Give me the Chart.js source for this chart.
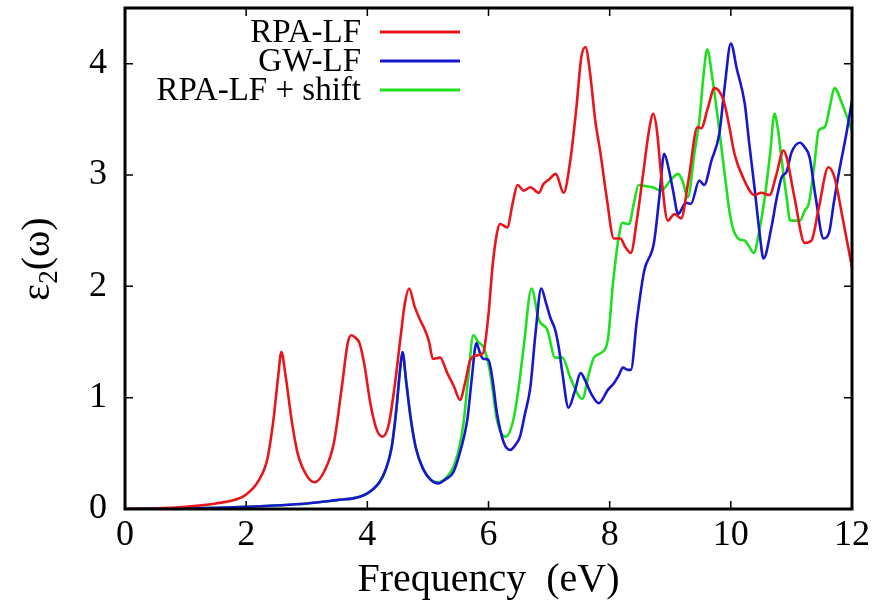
<!DOCTYPE html>
<html>
<head>
<meta charset="utf-8">
<script src="https://cdn.jsdelivr.net/npm/chart.js@4.4.1/dist/chart.umd.min.js"></script>
</head>
<body style="margin:0">
<canvas id="chart" width="882" height="604"></canvas>
<script>
// series (x in eV, y = eps2)
const redX = [0, 0.5, 1, 1.5, 1.8, 2.0, 2.2, 2.35, 2.45, 2.53, 2.58, 2.65, 2.75, 2.85, 3.0, 3.13, 3.3, 3.45, 3.58, 3.68, 3.74, 3.8, 3.87, 3.95, 4.05, 4.15, 4.25, 4.35, 4.45, 4.55, 4.62, 4.69, 4.78, 4.87, 4.95, 5.02, 5.08, 5.2, 5.32, 5.43, 5.53, 5.62, 5.7, 5.81, 5.91, 6.0, 6.07, 6.14, 6.19, 6.31, 6.4, 6.48, 6.58, 6.69, 6.83, 6.91, 7.0, 7.11, 7.24, 7.35, 7.45, 7.53, 7.6, 7.68, 7.76, 7.85, 7.95, 8.07, 8.18, 8.25, 8.35, 8.45, 8.55, 8.65, 8.72, 8.78, 8.85, 8.96, 9.07, 9.18, 9.3, 9.45, 9.51, 9.62, 9.73, 9.88, 9.97, 10.06, 10.2, 10.39, 10.5, 10.64, 10.75, 10.87, 10.92, 11.05, 11.22, 11.33, 11.45, 11.61, 11.71, 11.85, 12.0];
const redY = [0, 0.005, 0.02, 0.05, 0.08, 0.13, 0.25, 0.45, 0.8, 1.2, 1.41, 1.2, 0.8, 0.5, 0.3, 0.24, 0.35, 0.6, 1.1, 1.5, 1.56, 1.54, 1.49, 1.3, 0.95, 0.72, 0.65, 0.75, 1.1, 1.55, 1.85, 1.98, 1.82, 1.7, 1.61, 1.5, 1.35, 1.36, 1.22, 1.1, 0.98, 1.15, 1.34, 1.38, 1.4, 1.75, 2.2, 2.48, 2.56, 2.53, 2.75, 2.91, 2.86, 2.89, 2.84, 2.92, 2.96, 3.01, 2.84, 3.13, 3.6, 4.05, 4.15, 3.9, 3.5, 3.19, 2.8, 2.43, 2.43, 2.36, 2.3, 2.6, 3.0, 3.4, 3.55, 3.4, 3.0, 2.59, 2.65, 2.61, 2.95, 3.43, 3.42, 3.6, 3.78, 3.67, 3.45, 3.19, 2.98, 2.82, 2.84, 2.82, 3.0, 3.22, 3.16, 2.8, 2.39, 2.41, 2.7, 3.07, 2.98, 2.6, 2.17];

const blueX = [0, 1, 2, 3, 3.5, 3.8, 4.0, 4.2, 4.3, 4.4, 4.48, 4.54, 4.58, 4.64, 4.72, 4.8, 4.92, 5.05, 5.17, 5.3, 5.42, 5.55, 5.65, 5.72, 5.8, 5.86, 5.91, 6.0, 6.07, 6.14, 6.25, 6.36, 6.45, 6.52, 6.6, 6.69, 6.78, 6.87, 6.95, 7.02, 7.1, 7.16, 7.22, 7.32, 7.42, 7.52, 7.6, 7.7, 7.82, 7.97, 8.07, 8.15, 8.22, 8.3, 8.35, 8.45, 8.57, 8.73, 8.82, 8.9, 8.98, 9.05, 9.13, 9.26, 9.34, 9.48, 9.56, 9.68, 9.81, 9.9, 10.0, 10.1, 10.23, 10.3, 10.39, 10.47, 10.54, 10.67, 10.76, 10.84, 10.92, 11.0, 11.14, 11.22, 11.3, 11.4, 11.53, 11.62, 11.7, 11.78, 11.9, 12.0];
const blueY = [0, 0.005, 0.02, 0.05, 0.08, 0.1, 0.14, 0.24, 0.35, 0.55, 0.9, 1.25, 1.41, 1.15, 0.8, 0.55, 0.36, 0.26, 0.23, 0.27, 0.33, 0.55, 0.8, 1.15, 1.49, 1.4, 1.35, 1.34, 1.15, 0.86, 0.6, 0.53, 0.58, 0.65, 0.85, 1.09, 1.6, 1.98, 1.85, 1.72, 1.61, 1.45, 1.22, 0.91, 1.05, 1.22, 1.15, 1.03, 0.95, 1.07, 1.13, 1.2, 1.27, 1.25, 1.25, 1.7, 2.14, 2.39, 2.8, 3.19, 3.04, 2.85, 2.65, 2.75, 2.74, 2.95, 2.91, 3.13, 3.37, 3.8, 4.18, 3.95, 3.64, 3.3, 2.89, 2.5, 2.25, 2.53, 2.8, 2.98, 3.03, 3.2, 3.29, 3.25, 3.16, 2.8, 2.43, 2.48, 2.75, 3.01, 3.35, 3.67];

const greenX = [0, 1, 2, 3, 3.5, 3.8, 4.0, 4.2, 4.3, 4.4, 4.48, 4.54, 4.58, 4.64, 4.72, 4.8, 4.92, 5.05, 5.15, 5.3, 5.45, 5.58, 5.66, 5.75, 5.83, 5.92, 6.03, 6.14, 6.28, 6.41, 6.5, 6.58, 6.71, 6.83, 6.97, 7.1, 7.22, 7.35, 7.55, 7.65, 7.74, 7.85, 7.97, 8.05, 8.14, 8.21, 8.32, 8.4, 8.48, 8.6, 8.71, 8.85, 9.0, 9.13, 9.2, 9.29, 9.4, 9.48, 9.55, 9.61, 9.7, 9.79, 9.9, 10.0, 10.12, 10.23, 10.3, 10.38, 10.47, 10.56, 10.65, 10.72, 10.78, 10.84, 10.92, 10.98, 11.14, 11.22, 11.29, 11.38, 11.45, 11.55, 11.63, 11.71, 11.85, 12.0];
const greenY = [0, 0.005, 0.02, 0.05, 0.08, 0.1, 0.14, 0.24, 0.35, 0.55, 0.9, 1.25, 1.41, 1.15, 0.8, 0.55, 0.36, 0.26, 0.24, 0.28, 0.42, 0.74, 1.15, 1.56, 1.5, 1.45, 1.22, 0.8, 0.65, 0.8, 1.1, 1.45, 1.98, 1.7, 1.61, 1.36, 1.36, 1.18, 0.99, 1.2, 1.36, 1.4, 1.52, 2.0, 2.41, 2.57, 2.56, 2.75, 2.91, 2.9, 2.89, 2.86, 2.95, 3.01, 2.95, 2.8, 3.2, 3.49, 3.9, 4.13, 3.85, 3.49, 3.0, 2.6, 2.43, 2.41, 2.36, 2.3, 2.5, 2.8, 3.2, 3.55, 3.4, 3.13, 2.8, 2.59, 2.59, 2.68, 2.75, 3.1, 3.4, 3.43, 3.6, 3.78, 3.62, 3.4];

const seriesNames = ["RPA-LF", "GW-LF", "RPA-LF + shift"];
const seriesColors = ["#e8161c", "#1717cf", "#1fe01f"];
const xTicks = [0, 2, 4, 6, 8, 10, 12];
const yTicks = [0, 1, 2, 3, 4];

const serifFamily = "'Liberation Serif', serif";

const pts = (xs, ys) => xs.map((x, i) => ({ x: x, y: ys[i] }));

// box frame + inward ticks on all four sides
const framePlugin = {
  id: "frame",
  afterDatasetsDraw(chart) {
    const { ctx, chartArea: a, scales } = chart;
    ctx.save();
    ctx.strokeStyle = "#000";
    ctx.lineWidth = 1.5;
    const tl = 8;
    xTicks.slice(1, -1).forEach(v => {
      const px = scales.x.getPixelForValue(v);
      ctx.beginPath();
      ctx.moveTo(px, a.bottom); ctx.lineTo(px, a.bottom - tl);
      ctx.moveTo(px, a.top); ctx.lineTo(px, a.top + tl);
      ctx.stroke();
    });
    yTicks.slice(1).forEach(v => {
      const py = scales.y.getPixelForValue(v);
      ctx.beginPath();
      ctx.moveTo(a.left, py); ctx.lineTo(a.left + tl, py);
      ctx.moveTo(a.right, py); ctx.lineTo(a.right - tl, py);
      ctx.stroke();
    });
    ctx.lineWidth = 3;
    ctx.strokeRect(a.left, a.top, a.right - a.left, a.bottom - a.top);
    ctx.restore();
  }
};

// legend: text right-aligned, line sample to the right
const legendPlugin = {
  id: "keyBox",
  afterDraw(chart) {
    const ctx = chart.ctx;
    ctx.save();
    ctx.font = "33px " + serifFamily;
    ctx.textAlign = "right";
    ctx.textBaseline = "middle";
    seriesNames.forEach((name, i) => {
      const y = 32 + i * 29;
      ctx.fillStyle = "#000";
      ctx.fillText(name, 361, y + 1);
      ctx.strokeStyle = seriesColors[i];
      ctx.lineWidth = 3;
      ctx.beginPath();
      ctx.moveTo(380, y);
      ctx.lineTo(460, y);
      ctx.stroke();
    });
    ctx.restore();
  }
};

// y title with subscript
const yTitlePlugin = {
  id: "yTitle",
  afterDraw(chart) {
    const ctx = chart.ctx;
    ctx.save();
    ctx.translate(36, 259);
    ctx.rotate(-Math.PI / 2);
    ctx.fillStyle = "#000";
    ctx.textBaseline = "alphabetic";
    ctx.textAlign = "left";
    const big = "40px " + serifFamily, small = "27px " + serifFamily;
    ctx.font = big;
    const w1 = ctx.measureText("\u03b5").width;
    const w3 = ctx.measureText("(\u03c9)").width;
    ctx.font = small;
    const w2 = ctx.measureText("2").width;
    let x = -(w1 + w2 + w3) / 2;
    const base = 13;
    ctx.font = big;
    ctx.fillText("\u03b5", x, base);
    x += w1;
    ctx.font = small;
    ctx.fillText("2", x, base + 8);
    x += w2;
    ctx.font = big;
    ctx.fillText("(\u03c9)", x, base);
    ctx.restore();
  }
};

new Chart(document.getElementById("chart"), {
  type: "line",
  data: {
    datasets: [
      { label: seriesNames[0], data: pts(redX, redY), borderColor: seriesColors[0], order: 0 },
      { label: seriesNames[1], data: pts(blueX, blueY), borderColor: seriesColors[1], order: 1 },
      { label: seriesNames[2], data: pts(greenX, greenY), borderColor: seriesColors[2], order: 2 }
    ]
  },
  options: {
    responsive: false,
    animation: false,
    layout: { padding: { top: 8, right: 30, left: 0, bottom: 0 } },
    elements: {
      point: { radius: 0 },
      line: { borderWidth: 2.6, cubicInterpolationMode: "monotone", fill: false }
    },
    plugins: { legend: { display: false }, tooltip: { enabled: false } },
    scales: {
      x: {
        type: "linear",
        min: 0, max: 12,
        afterFit(s) { s.height = 95; s.paddingLeft = 0; s.paddingRight = 0; },
        afterBuildTicks(s) { s.ticks = xTicks.map(v => ({ value: v })); },
        grid: { display: false, drawTicks: false },
        border: { display: false },
        ticks: { color: "#000", padding: 5, maxRotation: 0, font: { family: serifFamily, size: 36 } },
        title: {
          display: true, text: "Frequency  (eV)", color: "#000",
          font: { family: serifFamily, size: 40 }, padding: { top: 0, bottom: 0 }
        }
      },
      y: {
        min: 0, max: 4.5,
        afterFit(s) { s.width = 125; s.paddingTop = 0; s.paddingBottom = 0; },
        afterBuildTicks(s) { s.ticks = yTicks.map(v => ({ value: v })); },
        grid: { display: false, drawTicks: false },
        border: { display: false },
        ticks: { color: "#000", padding: 18, font: { family: serifFamily, size: 36 } }
      }
    }
  },
  plugins: [framePlugin, legendPlugin, yTitlePlugin]
});
</script>
</body>
</html>
